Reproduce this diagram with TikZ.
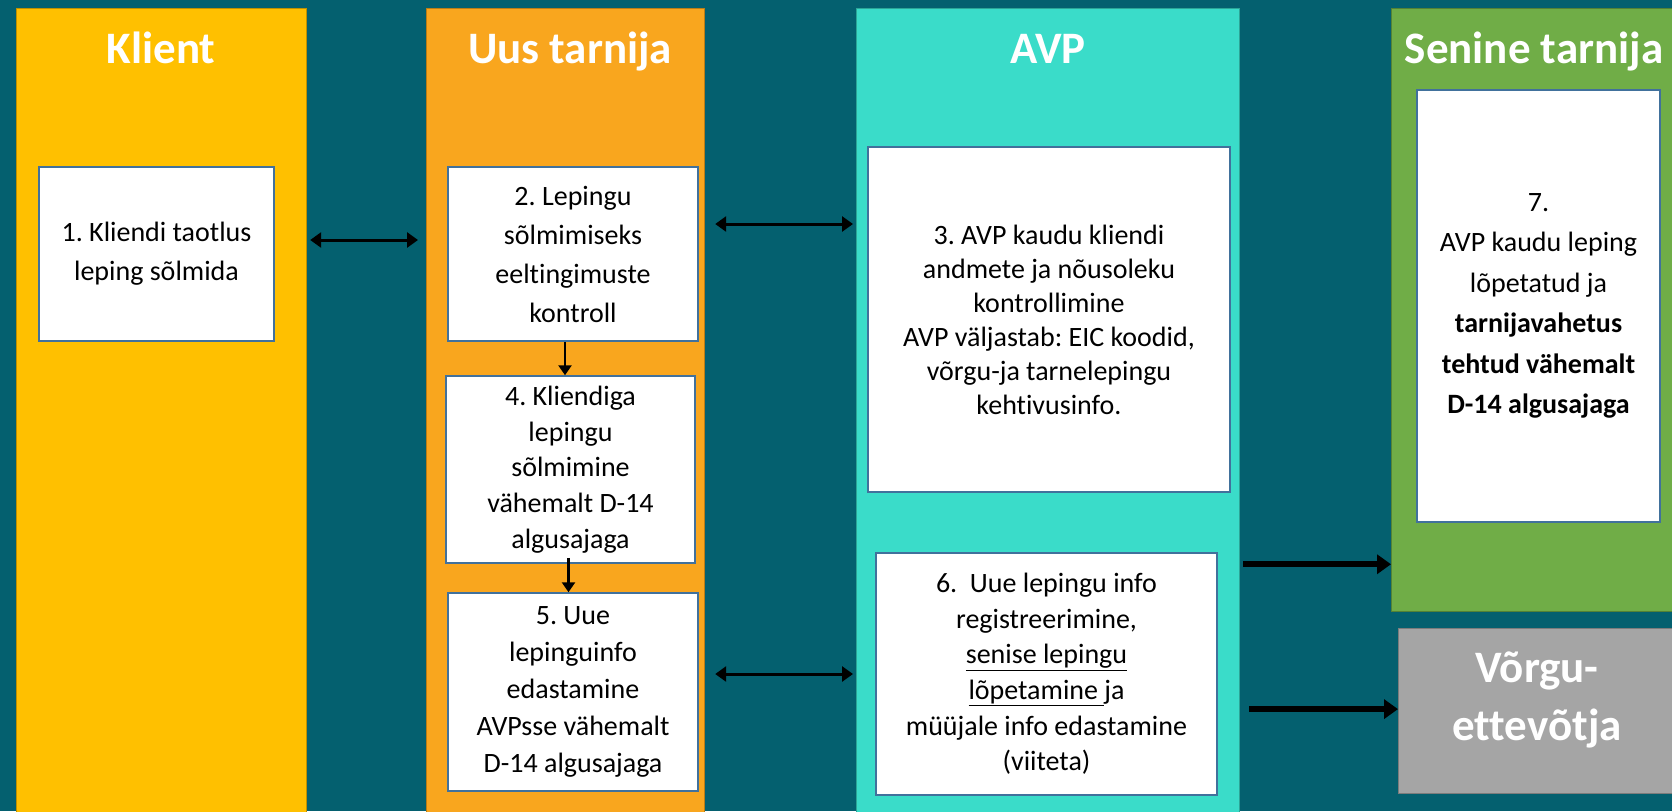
\documentclass[tikz,border=0pt]{standalone}
\usepackage{fontspec}
\setmainfont[Ligatures={NoCommon,NoContextual}]{Carlito}
\usetikzlibrary{arrows.meta,calc}
\definecolor{bgteal}{HTML}{04606F}
\definecolor{klientgold}{HTML}{FFC000}
\definecolor{uusorange}{HTML}{F9A61E}
\definecolor{avpturq}{HTML}{3ADCC9}
\definecolor{seninegreen}{HTML}{70AD47}
\definecolor{vorgugrey}{HTML}{A5A5A5}
\definecolor{boxblue}{HTML}{41719C}
\frenchspacing
\begin{document}
\begin{tikzpicture}[x=1pt, y=-1pt,
  lane/.style={draw=#1!75!black, line width=1.2pt, fill=#1, anchor=north west, inner sep=0pt},
  title/.style={text=white, font=\fontsize{45}{58}\selectfont\bfseries, align=center, inner sep=0pt},
  stepbox/.style={draw=boxblue, line width=1.5pt, fill=white, align=center, inner sep=0pt,
    font=\fontsize{28}{#1}\selectfont},
  stepbox/.default=36,
  biarrow/.style={line width=3pt, {Triangle[length=11pt,width=15pt]}-{Triangle[length=11pt,width=15pt]}},
  bigarrow/.style={line width=6pt, -{Triangle[length=14pt,width=19pt]}},
  downarrow/.style={line width=2.5pt, -{Triangle[length=10pt,width=13pt]}}]
\useasboundingbox[fill=bgteal] (0,0) rectangle (1672,811);
% lanes
\node[lane=klientgold, minimum width=290, minimum height=810] (C_0) at (16,8) {};
\node[lane=uusorange, minimum width=278, minimum height=810] (C_1) at (426,8) {};
\node[lane=avpturq, minimum width=383, minimum height=810] (C_2) at (856,8) {};
\node[lane=seninegreen, minimum width=290, minimum height=603] (C_3) at (1391,8) {};
\node[lane=vorgugrey, minimum width=285, minimum height=165] (C_4) at (1398,628) {};
\node[title, anchor=base] (T_0) at (161,63) {Klient};
\node[title, anchor=base] (T_1) at (570,63) {Uus tarnija};
\node[title, anchor=base] (T_2) at (1048,63) {AVP};
\node[title, anchor=base] (T_3) at (1534,63) {Senine tarnija};
\node[title] (T_4) at (1537,700) {Võrgu-\\ettevõtja};
% steps
\node[stepbox=39, minimum width=235, minimum height=174] (B_1) at (156.5,254) {1. Kliendi taotlus\\leping sõlmida};
\node[stepbox=39, minimum width=250, minimum height=174] (B_2) at (573,254) {2. Lepingu\\sõlmimiseks\\eeltingimuste\\kontroll};
\node[stepbox=34, minimum width=362, minimum height=345] (B_3) at (1049,319.5) {3. AVP kaudu kliendi\\andmete ja nõusoleku\\kontrollimine\\AVP väljastab: EIC koodid,\\võrgu-ja tarnelepingu\\kehtivusinfo.};
\node[stepbox=35.7, minimum width=249, minimum height=187] (B_4) at (570.5,469.5) {4. Kliendiga\\lepingu\\sõlmimine\\vähemalt D-14\\algusajaga};
\node[stepbox=37, minimum width=250, minimum height=198] (B_5) at (573,692) {5. Uue\\lepinguinfo\\edastamine\\AVPsse vähemalt\\D-14 algusajaga};
\node[stepbox=35.6, minimum width=341, minimum height=242] (B_6) at (1046.5,674) {6.\ \ Uue lepingu info\\registreerimine,\\\underline{senise lepingu}\\\underline{lõpetamine\ }ja\\müüjale info edastamine\\(viiteta)};
\node[stepbox=40.5, minimum width=243, minimum height=432] (B_7) at (1538.5,306) {7.\\AVP kaudu leping\\lõpetatud ja\\\textbf{tarnijavahetus}\\\textbf{tehtud vähemalt}\\\textbf{D-14 algusajaga}};
% connectors
\draw[biarrow] ($(C_0.east |- B_1.east)+(3,-14)$) -- ($(C_1.west |- B_1.east)+(-8,-14)$);
\draw[biarrow] ($(C_1.east |- B_2.east)+(10,-30)$) -- ($(C_2.west |- B_2.east)+(-3,-30)$);
\draw[biarrow] ($(C_1.east |- B_6.west)+(10,0)$) -- ($(C_2.west |- B_6.west)+(-3,0)$);
\draw[downarrow] ($(B_2.south)+(-8,0)$) -- ($(B_2.south |- B_4.north)+(-8,0)$);
\draw[downarrow] ($(B_4.south)+(-2,-6)$) -- ($(B_4.south |- B_5.north)+(-2,0)$);
\draw[bigarrow] ($(C_2.east |- B_6.north)+(3,12)$) -- ($(C_3.west |- B_6.north)+(0,12)$);
\draw[bigarrow] ($(C_2.east |- C_4.west)+(9,-2)$) -- ($(C_4.west)+(0,-2)$);
\end{tikzpicture}
\end{document}
